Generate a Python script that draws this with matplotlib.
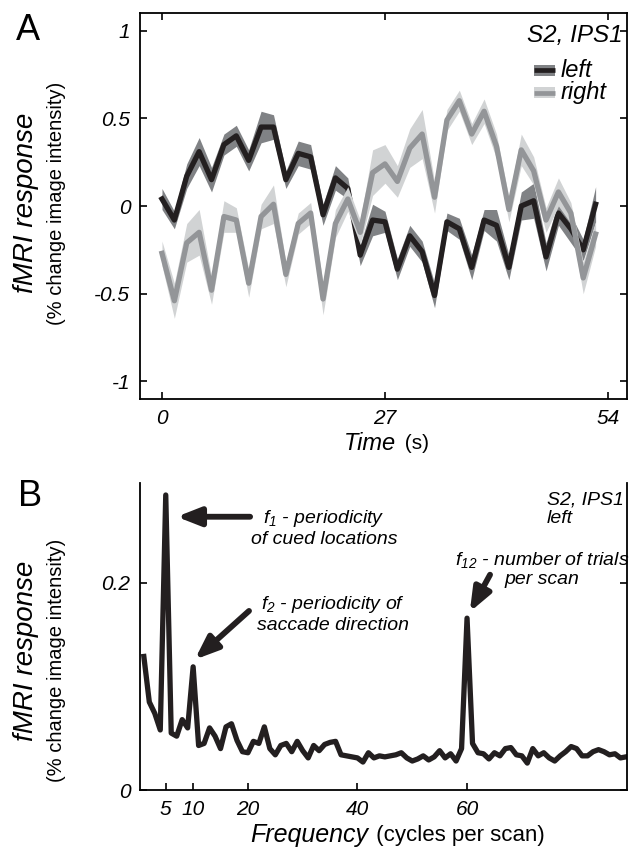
import matplotlib.pyplot as plt
from matplotlib.patches import Rectangle

plt.rcParams['font.family'] = 'Liberation Sans'
plt.rcParams['mathtext.fontset'] = 'custom'
plt.rcParams['mathtext.it'] = 'Liberation Sans:italic'
plt.rcParams['mathtext.rm'] = 'Liberation Sans:italic'

# ---------------------------------------------------------------------------
# Data: event-related time course (A) and amplitude spectrum (B)
# ---------------------------------------------------------------------------
time_s = [0, 1.5, 3, 4.5, 6, 7.5, 9, 10.5, 12, 13.5, 15, 16.5, 18, 19.5, 21, 22.5,
          24, 25.5, 27, 28.5, 30, 31.5, 33, 34.5, 36, 37.5, 39, 40.5, 42, 43.5,
          45, 46.5, 48, 49.5, 51, 52.5]

left_mean = [0.04, -0.08, 0.17, 0.31, 0.15, 0.35, 0.40, 0.26, 0.45, 0.45, 0.15, 0.30,
             0.28, -0.05, 0.16, 0.10, -0.28, -0.08, -0.09, -0.36, -0.17, -0.26, -0.51, -0.09,
             -0.13, -0.35, -0.08, -0.11, -0.35, 0.00, 0.03, -0.29, -0.04, -0.13, -0.25, 0.01]
left_sem = [0.06, 0.05, 0.07, 0.08, 0.07, 0.06, 0.06, 0.06, 0.09, 0.07, 0.05, 0.07,
            0.07, 0.06, 0.07, 0.06, 0.06, 0.09, 0.06, 0.06, 0.06, 0.06, 0.07, 0.05,
            0.06, 0.07, 0.06, 0.09, 0.07, 0.08, 0.10, 0.08, 0.07, 0.08, 0.06, 0.10]

right_mean = [-0.27, -0.54, -0.21, -0.15, -0.48, -0.06, -0.08, -0.44, -0.06, 0.01, -0.39, -0.10,
              -0.04, -0.53, -0.10, 0.04, -0.15, 0.19, 0.24, 0.14, 0.33, 0.41, 0.05, 0.49,
              0.60, 0.41, 0.54, 0.34, -0.02, 0.32, 0.20, -0.08, 0.08, -0.04, -0.41, -0.16]
right_sem = [0.07, 0.10, 0.11, 0.13, 0.08, 0.09, 0.07, 0.08, 0.07, 0.11, 0.07, 0.06,
             0.06, 0.09, 0.08, 0.07, 0.07, 0.13, 0.11, 0.09, 0.11, 0.14, 0.09, 0.06,
             0.06, 0.06, 0.07, 0.07, 0.07, 0.09, 0.08, 0.07, 0.08, 0.06, 0.09, 0.07]

freq = list(range(1, 90))
amplitude = [0.129, 0.085, 0.074, 0.058, 0.285, 0.055, 0.052, 0.068, 0.060, 0.119,
             0.043, 0.045, 0.060, 0.052, 0.040, 0.061, 0.064, 0.048, 0.037, 0.036,
             0.047, 0.045, 0.061, 0.040, 0.034, 0.043, 0.045, 0.037, 0.047, 0.038,
             0.031, 0.043, 0.038, 0.044, 0.046, 0.047, 0.034, 0.033, 0.032, 0.031,
             0.027, 0.036, 0.031, 0.033, 0.032, 0.033, 0.034, 0.036, 0.031, 0.028,
             0.030, 0.033, 0.029, 0.032, 0.038, 0.031, 0.035, 0.028, 0.040, 0.166,
             0.045, 0.036, 0.035, 0.030, 0.036, 0.033, 0.040, 0.041, 0.034, 0.033,
             0.026, 0.040, 0.033, 0.036, 0.031, 0.028, 0.033, 0.037, 0.042, 0.040,
             0.033, 0.033, 0.037, 0.039, 0.037, 0.034, 0.035, 0.031, 0.032]

a_xticks = [0, 27, 54]
a_yticks = [-1, -0.5, 0, 0.5, 1]
a_yticklabels = ['-1', '-0.5', '0', '0.5', '1']
b_xticks = [5, 10, 20, 40, 60]
b_yticks = [0, 0.2]

# colours
BLACK = '#231f20'
DARK_BAND = '#808285'
GRAY_LINE = '#939598'
LIGHT_BAND = '#d1d3d4'

W, H = 633, 849
fig = plt.figure(figsize=(W / 100, H / 100), dpi=100)


def px_axes(left, top, right, bottom):
    return fig.add_axes([left / W, 1 - bottom / H, (right - left) / W, (bottom - top) / H])


def style_ticks(ax):
    ax.tick_params(direction='in', length=5, width=1.2, labelsize=15, pad=7)
    for s in ax.spines.values():
        s.set_linewidth(1.3)


# ---------------------------------------------------------------------------
# Panel A
# ---------------------------------------------------------------------------
axA = px_axes(140, 13, 627, 399)
lo = [m - e for m, e in zip(left_mean, left_sem)]
hi = [m + e for m, e in zip(left_mean, left_sem)]
axA.fill_between(time_s, lo, hi, color=DARK_BAND, lw=0, zorder=1)
axA.plot(time_s, left_mean, color=BLACK, lw=3.8, zorder=2)
lo = [m - e for m, e in zip(right_mean, right_sem)]
hi = [m + e for m, e in zip(right_mean, right_sem)]
axA.fill_between(time_s, lo, hi, color=LIGHT_BAND, lw=0, zorder=3)
axA.plot(time_s, right_mean, color=GRAY_LINE, lw=3.8, zorder=4)

axA.set_xlim(-2.66, 56.3)
axA.set_ylim(-1.1, 1.1)
axA.set_xticks(a_xticks)
axA.set_xticklabels([str(t) for t in a_xticks], fontstyle='italic')
axA.set_yticks(a_yticks)
axA.set_yticklabels(a_yticklabels, fontstyle='italic')
axA.tick_params(top=True, right=True)
style_ticks(axA)

# legend key
axA.text(0.990, 0.943, 'S2, IPS1', transform=axA.transAxes, ha='right', va='center',
         fontsize=17.5, fontstyle='italic')
for yk, band, line, lab in [(0.852, DARK_BAND, BLACK, 'left'),
                            (0.793, LIGHT_BAND, GRAY_LINE, 'right')]:
    axA.add_patch(Rectangle((0.809, yk - 0.014), 0.043, 0.028, transform=axA.transAxes,
                            color=band, lw=0, zorder=5))
    axA.plot([0.809, 0.852], [yk, yk], transform=axA.transAxes, color=line, lw=3.4,
             solid_capstyle='butt', zorder=6)
    axA.text(0.864, yk, lab, transform=axA.transAxes, ha='left', va='center',
             fontsize=17, fontstyle='italic')

fig.text(396 / W, 1 - 443 / H, 'Time', ha='right', va='center', fontsize=17, fontstyle='italic')
fig.text(399 / W, 1 - 443 / H, ' (s)', ha='left', va='center', fontsize=15)

# ---------------------------------------------------------------------------
# Panel B
# ---------------------------------------------------------------------------
axB = px_axes(140, 483, 627, 790)
axB.plot(freq, amplitude, color=BLACK, lw=3.8)
axB.set_xlim(0.3, 89.2)
axB.set_ylim(0, 0.2966)
axB.set_xticks(b_xticks)
axB.set_xticklabels([str(f) for f in b_xticks], fontstyle='italic')
axB.set_yticks(b_yticks)
axB.set_yticklabels(['0', '0.2'], fontstyle='italic')
axB.spines['top'].set_visible(False)
axB.tick_params(right=True)
style_ticks(axB)

arrow = dict(arrowstyle='-|>,head_length=1.4,head_width=0.55', color=BLACK, lw=4.2,
             shrinkA=0, shrinkB=0)
axB.annotate('', xy=(7.0, 0.264), xytext=(20.4, 0.264), arrowprops=arrow)
axB.annotate('', xy=(10.3, 0.126), xytext=(20.2, 0.173), arrowprops=arrow)
axB.annotate('', xy=(60.5, 0.172), xytext=(64.2, 0.208), arrowprops=arrow)

note = dict(fontsize=14, fontstyle='italic', ha='center', va='center',
            multialignment='center', linespacing=1.15)
axB.text(33.9, 0.253, '$f_1$ - periodicity\nof cued locations', **note)
axB.text(35.5, 0.170, '$f_2$ - periodicity of\nsaccade direction', **note)
axB.text(73.7, 0.2135, '$f_{12}$ - number of trials\nper scan', **note)
axB.text(74.6, 0.2715, 'S2, IPS1\nleft', fontsize=14, fontstyle='italic', ha='left',
         va='center', linespacing=1.15)

fig.text(368 / W, 1 - 835 / H, 'Frequency', ha='right', va='center', fontsize=18,
         fontstyle='italic')
fig.text(370 / W, 1 - 835 / H, ' (cycles per scan)', ha='left', va='center', fontsize=16)

# ---------------------------------------------------------------------------
# Shared y labels and panel letters
# ---------------------------------------------------------------------------
for yc1, yc2 in [(203, 203), (651, 660)]:
    fig.text(26 / W, 1 - yc1 / H, 'fMRI response', rotation=90, ha='center', va='center',
             fontsize=20, fontstyle='italic')
    fig.text(57 / W, 1 - yc2 / H, '(% change image intensity)', rotation=90, ha='center',
             va='center', fontsize=14.5)

fig.text(28 / W, 1 - 30 / H, 'A', ha='center', va='center', fontsize=26)
fig.text(30 / W, 1 - 496 / H, 'B', ha='center', va='center', fontsize=26)

fig.savefig('out.png', dpi=100)
